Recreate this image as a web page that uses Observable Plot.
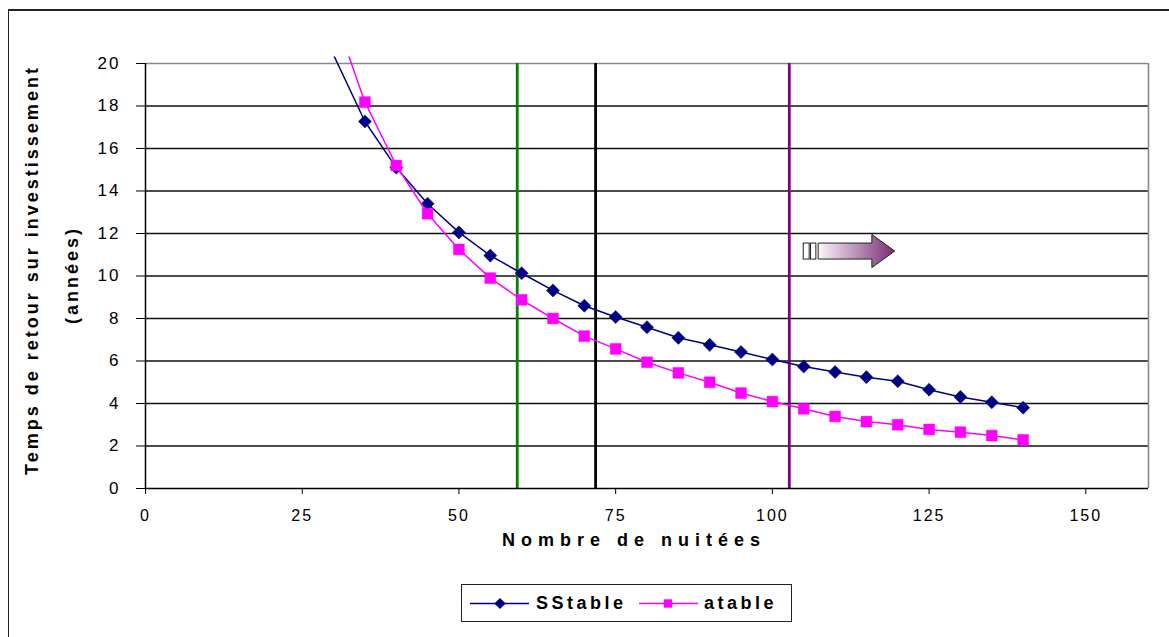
<!DOCTYPE html>
<html><head><meta charset="utf-8">
<script src="https://cdn.jsdelivr.net/npm/d3@7"></script>
<script src="https://cdn.jsdelivr.net/npm/@observablehq/plot@0.6"></script>
<style>
body{margin:0;background:#fff;}
#wrap{position:relative;width:1169px;height:637px;overflow:hidden;background:#fff;font-family:"Liberation Sans",Arial,sans-serif;}
#frame{position:absolute;left:8px;top:9px;width:1200px;height:700px;border-left:1.5px solid #222;border-top:2px solid #222;}
#chart{position:absolute;left:0;top:0;}
#chart svg text{letter-spacing:2px;}
.title{position:absolute;font-weight:bold;font-size:18px;white-space:nowrap;color:#000;line-height:1;}
.rot{transform:translate(-50%,-50%) rotate(-90deg);letter-spacing:3px;}
#xtitle{transform:translate(-50%,-50%);letter-spacing:6px;}
#legend{position:absolute;left:461px;top:584px;width:329px;height:36px;border:1.5px solid #222;background:#fff;}
#legend .lab{position:absolute;top:18px;transform:translateY(-50%);font-weight:bold;font-size:18px;letter-spacing:3.5px;line-height:1;white-space:nowrap;}
#legend svg{position:absolute;left:0;top:0;}
</style></head>
<body>
<div id="wrap">
  <div id="frame"></div>
  <div id="chart"></div>
  <div class="title rot" id="yt1" style="left:32px;top:270px">Temps de retour sur investissement</div>
  <div class="title rot" id="yt2" style="left:72px;top:275px">(années)</div>
  <div class="title" id="xtitle" style="left:634px;top:540px">Nombre de nuitées</div>
  <div id="legend"></div>
</div>
<script>
// ---- data ----
const nuitees = [30,35,40,45,50,55,60,65,70,75,80,85,90,95,100,105,110,115,120,125,130,135,140];
const sstable = [20.4,17.27,15.1,13.4,12.05,10.96,10.13,9.32,8.6,8.07,7.59,7.09,6.76,6.42,6.07,5.74,5.48,5.24,5.05,4.65,4.31,4.06,3.8];
const atable  = [22.4,18.18,15.2,12.93,11.25,9.9,8.88,8.0,7.17,6.57,5.94,5.44,5.0,4.49,4.09,3.75,3.39,3.15,3.0,2.78,2.65,2.49,2.29];
const seriesNames = ["SStable","atable"];
const seriesColors = ["#000080","#ff00ff"];
const seriesSymbols = ["diamond2","square"];
const xTicks = [0,25,50,75,100,125,150];
const yTicks = [0,2,4,6,8,10,12,14,16,18,20];
const gridY = [2,4,6,8,10,12,14,16,18];
const refLines = [59.3, 71.8, 102.7];
const refColors = ["#008000","#000000","#800080"];
const arrowNote = [{x1:105, x2:119.6, y:11.15}];

const sData = nuitees.map((n,i)=>({x:n,y:sstable[i]}));
const aData = nuitees.map((n,i)=>({x:n,y:atable[i]}));
const refData = refLines.map((v,i)=>({x:v,c:refColors[i]}));

function arrowMark(index, scales){
  const g = d3.create("svg:g");
  const a = arrowNote[0];
  const X1 = scales.x(a.x1), X2 = scales.x(a.x2), Y = scales.y(a.y);
  const L = X2 - X1;
  const defs = g.append("defs");
  const grad = defs.append("linearGradient").attr("id","arrGrad").attr("x1","0").attr("x2","1").attr("y1","0").attr("y2","0");
  grad.append("stop").attr("offset","0").attr("stop-color","#fbf6fa");
  grad.append("stop").attr("offset","1").attr("stop-color","#7a2c72");
  const bh = 8, hh = 16.5;
  g.append("rect").attr("x",X1).attr("y",Y-bh).attr("width",0.065*L).attr("height",2*bh)
    .attr("fill","#fff").attr("stroke","#222").attr("stroke-width",1);
  g.append("rect").attr("x",X1+0.08*L).attr("y",Y-bh).attr("width",0.058*L).attr("height",2*bh)
    .attr("fill","#fff").attr("stroke","#222").attr("stroke-width",1);
  const bx = X1+0.163*L, hx = X1+0.75*L;
  const pts = [[bx,Y-bh],[hx,Y-bh],[hx,Y-hh],[X2,Y],[hx,Y+hh],[hx,Y+bh],[bx,Y+bh]];
  g.append("path").attr("d","M"+pts.map(p=>p.join(",")).join("L")+"Z")
    .attr("fill","url(#arrGrad)").attr("stroke","#222").attr("stroke-width",1);
  return g.node();
}

const plot = Plot.plot({
  width: 1169,
  height: 570,
  marginLeft: 145,
  marginRight: 21,
  marginTop: 56.6,
  marginBottom: 82,
  style: {fontFamily: '"Liberation Sans", Arial, sans-serif', fontSize: "16px", color: "#000", background: "transparent", overflow: "visible"},
  x: {domain: [0,160]},
  y: {domain: [0,20.3]},
  marks: [
    Plot.ruleY(gridY, {x1: 0, x2: 160, stroke: "#111", strokeWidth: 1.6}),
    Plot.ruleY([20], {x1: 0, x2: 160, stroke: "#8a8a8a", strokeWidth: 1.6}),
    Plot.ruleX([160], {y1: 0, y2: 20, stroke: "#8a8a8a", strokeWidth: 1.6}),
    Plot.ruleX(refData, {x: "x", y1: 0, y2: 20, stroke: "c", strokeWidth: 2.8}),
    Plot.ruleY([0], {x1: 0, x2: 160, stroke: "#000", strokeWidth: 1.5}),
    Plot.ruleX([0], {y1: 0, y2: 20, stroke: "#000", strokeWidth: 1.5}),
    Plot.axisX({ticks: xTicks, tickSize: 6, tickPadding: 15, tickFormat: d => String(d), label: null, fontSize: 16}),
    Plot.axisY({ticks: yTicks, tickSize: 9, tickPadding: 16, tickFormat: d => String(d), label: null, fontSize: 17}),
    Plot.line(sData, {x: "x", y: "y", stroke: seriesColors[0], strokeWidth: 1.5, clip: true}),
    Plot.dot(sData.filter(d => d.y <= 20), {x: "x", y: "y", symbol: seriesSymbols[0], r: 5.9, fill: seriesColors[0], stroke: seriesColors[0], strokeWidth: 0.5}),
    Plot.line(aData, {x: "x", y: "y", stroke: seriesColors[1], strokeWidth: 1.5, clip: true}),
    Plot.dot(aData.filter(d => d.y <= 20), {x: "x", y: "y", symbol: seriesSymbols[1], r: 6.1, fill: seriesColors[1], stroke: seriesColors[1], strokeWidth: 0.5}),
    arrowMark
  ]
});
document.getElementById("chart").appendChild(plot);

// ---- legend ----
const leg = document.getElementById("legend");
const lsvg = d3.select(leg).append("svg").attr("width",329).attr("height",36);
const legPos = [{line:[8,67], m:38, t:74}, {line:[177,236], m:206, t:242}];
seriesNames.forEach((name,i)=>{
  const p = legPos[i];
  lsvg.append("line").attr("x1",p.line[0]).attr("x2",p.line[1]).attr("y1",18.5).attr("y2",18.5)
    .attr("stroke",seriesColors[i]).attr("stroke-width",1.5);
  const sym = i === 0 ? d3.symbol(d3.symbolDiamond2, 80) : d3.symbol(d3.symbolSquare, 70);
  lsvg.append("path").attr("d", sym()).attr("transform",`translate(${p.m},18.5)`).attr("fill",seriesColors[i]);
  const lab = document.createElement("div");
  lab.className = "lab"; lab.style.left = p.t + "px"; lab.textContent = name;
  leg.appendChild(lab);
});
</script>
</body></html>
